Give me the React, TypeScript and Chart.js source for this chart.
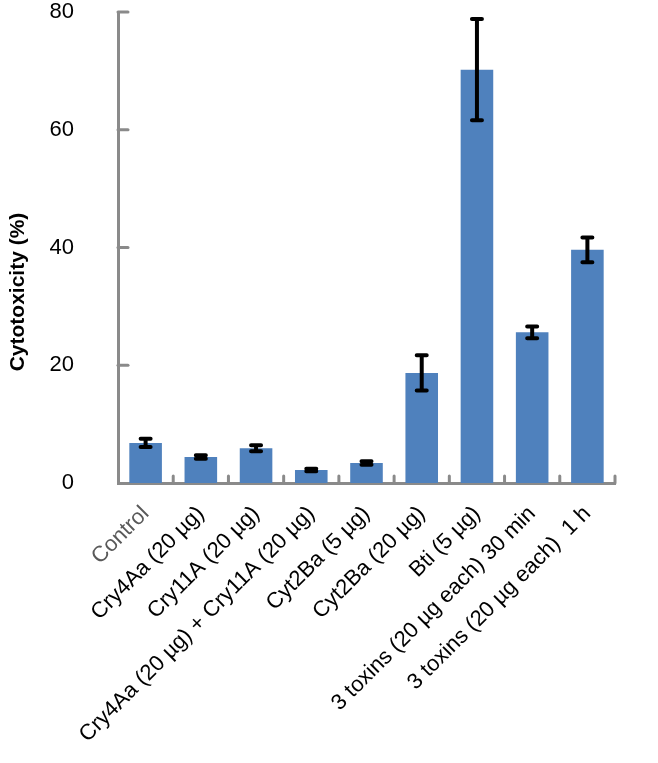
import React, { useEffect, useRef } from "react";
import { Chart, registerables } from "chart.js";

Chart.register(...registerables);

const categories = [
  "Control",
  "Cry4Aa (20 µg)",
  "Cry11A (20 µg)",
  "Cry4Aa (20 µg) + Cry11A (20 µg)",
  "Cyt2Ba (5 µg)",
  "Cyt2Ba (20 µg)",
  "Bti (5 µg)",
  "3 toxins (20 µg each) 30 min",
  "3 toxins (20 µg each)  1 h",
];
const values = [6.8, 4.4, 5.9, 2.2, 3.4, 18.7, 70.2, 25.6, 39.6];
const errors = [0.7, 0.3, 0.5, 0.2, 0.3, 3.0, 8.6, 1.0, 2.1];
const yTicks = [0, 20, 40, 60, 80];
const labelColors = ["#595959", "#000", "#000", "#000", "#000", "#000", "#000", "#000", "#000"];

const AXIS = "#8a8a8a";
const FONT = "'Liberation Sans', Arial, sans-serif";

const errorBarPlugin = {
  id: "errorBars",
  afterDatasetsDraw(chart: any) {
    const ctx = chart.ctx;
    const meta = chart.getDatasetMeta(0);
    const y = chart.scales.y;
    ctx.save();
    ctx.strokeStyle = "#000";
    ctx.lineWidth = 4;
    ctx.lineCap = "butt";
    meta.data.forEach((bar: any, i: number) => {
      const x = bar.x;
      const yHi = y.getPixelForValue(values[i] + errors[i]);
      const yLo = y.getPixelForValue(values[i] - errors[i]);
      ctx.beginPath();
      ctx.moveTo(x, yHi);
      ctx.lineTo(x, yLo);
      ctx.stroke();
      ctx.lineCap = "round";
      ctx.beginPath();
      ctx.moveTo(x - 5, yHi);
      ctx.lineTo(x + 5, yHi);
      ctx.moveTo(x - 5, yLo);
      ctx.lineTo(x + 5, yLo);
      ctx.stroke();
      ctx.lineCap = "butt";
    });
    ctx.restore();
  },
};

const axisTicksPlugin = {
  id: "inwardTicks",
  afterDraw(chart: any) {
    const ctx = chart.ctx;
    const { left, right, bottom } = chart.chartArea;
    const x = chart.scales.x;
    const y = chart.scales.y;
    ctx.save();
    ctx.strokeStyle = AXIS;
    ctx.lineWidth = 3;
    ctx.lineCap = "round";
    yTicks.forEach((v) => {
      if (v === 0) return;
      const py = y.getPixelForValue(v);
      ctx.beginPath();
      ctx.moveTo(left, py);
      ctx.lineTo(left + 10, py);
      ctx.stroke();
    });
    for (let i = 0; i < categories.length; i++) {
      const px =
        i < categories.length - 1
          ? (x.getPixelForValue(i) + x.getPixelForValue(i + 1)) / 2
          : right;
      ctx.beginPath();
      ctx.moveTo(px, bottom);
      ctx.lineTo(px, bottom - 7);
      ctx.stroke();
    }
    // y-axis title
    ctx.fillStyle = "#000";
    ctx.font = `bold 21px ${FONT}`;
    ctx.textAlign = "center";
    ctx.textBaseline = "middle";
    ctx.translate(18, 292);
    ctx.rotate(-Math.PI / 2);
    ctx.fillText("Cytotoxicity (%)", 0, 0);
    ctx.restore();
  },
};

export default function App() {
  const ref = useRef<HTMLCanvasElement>(null);
  useEffect(() => {
    document.body.style.margin = "0";
    const chart = new Chart(ref.current!, {
      type: "bar",
      data: {
        labels: categories,
        datasets: [
          {
            data: values,
            backgroundColor: "#4f81bd",
            borderWidth: 0,
            categoryPercentage: 1,
            barPercentage: 0.59,
          },
        ],
      },
      options: {
        animation: false,
        responsive: false,
        layout: { padding: { top: 12, right: 43, left: 0, bottom: 0 } },
        plugins: { legend: { display: false }, tooltip: { enabled: false } },
        scales: {
          x: {
            grid: { display: false, drawTicks: false },
            border: { display: true, color: AXIS, width: 3 },
            ticks: {
              autoSkip: false,
              minRotation: 45,
              maxRotation: 45,
              padding: 18,
              color: (c: any) => labelColors[c.index] || "#000",
              font: { family: FONT, size: 22 },
            },
            afterFit: (s: any) => {
              s.height = 280;
              s.paddingLeft = 0;
              s.paddingRight = 0;
            },
          },
          y: {
            min: 0,
            max: 80,
            grid: { display: false, drawTicks: false },
            border: { display: true, color: AXIS, width: 3 },
            ticks: {
              stepSize: 20,
              padding: 44,
              color: "#000",
              font: { family: FONT, size: 22 },
            },
            afterFit: (s: any) => {
              s.width = 118;
              s.paddingTop = 0;
              s.paddingBottom = 0;
            },
          },
        },
      },
      plugins: [errorBarPlugin, axisTicksPlugin],
    });
    return () => chart.destroy();
  }, []);
  return <canvas ref={ref} width={658} height={763} style={{ display: "block" }} />;
}
